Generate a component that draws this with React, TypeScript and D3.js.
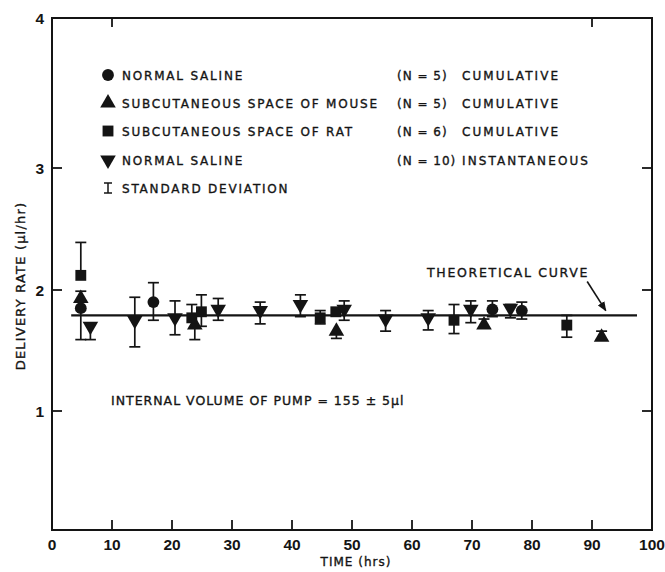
import React from "react";
import * as d3 from "d3";

const W = 665;
const H = 572;

// ---- axes ----
const xTickValues = [0, 10, 20, 30, 40, 50, 60, 70, 80, 90, 100];
const xInnerTicks = [10, 20, 30, 40, 50, 60, 70, 80, 90];
const xTopTicks = [10, 90];
const yTickLabels = [1, 2, 3, 4];
const yInnerTicks = [1, 2, 3];

// ---- data: NORMAL SALINE (N = 5) CUMULATIVE  (circles) ----
const salineCumT = [4.8, 16.9, 73.4, 78.3];
const salineCumV = [1.85, 1.9, 1.84, 1.83];
const salineCumHi: (number | null)[] = [null, 2.06, 1.91, 1.9];
const salineCumLo: (number | null)[] = [1.59, 1.75, 1.78, 1.76];

// ---- SUBCUTANEOUS SPACE OF MOUSE (N = 5) CUMULATIVE (triangles up) ----
const mouseT = [4.8, 23.8, 47.4, 72.0, 91.6];
const mouseV = [1.93, 1.71, 1.66, 1.71, 1.61];
const mouseHi: (number | null)[] = [1.99, null, null, 1.76, 1.66];
const mouseLo: (number | null)[] = [null, 1.59, 1.6, null, null];

// ---- SUBCUTANEOUS SPACE OF RAT (N = 6) CUMULATIVE (squares) ----
const ratT = [4.8, 23.3, 24.9, 44.7, 47.3, 67.0, 85.8];
const ratV = [2.12, 1.77, 1.82, 1.77, 1.82, 1.75, 1.71];
const ratHi: (number | null)[] = [2.39, 1.88, 1.96, 1.83, null, 1.88, 1.79];
const ratLo: (number | null)[] = [null, null, 1.7, 1.72, null, 1.64, 1.61];

// ---- NORMAL SALINE (N = 10) INSTANTANEOUS (triangles down) ----
const salineInstT = [6.4, 13.8, 20.5, 27.7, 34.7, 41.4, 48.7, 55.6, 62.7, 69.8, 76.4];
const salineInstV = [1.7, 1.75, 1.77, 1.84, 1.83, 1.88, 1.84, 1.76, 1.77, 1.84, 1.85];
const salineInstHi: (number | null)[] = [null, 1.94, 1.91, 1.93, 1.9, 1.96, 1.91, 1.83, 1.83, 1.91, 1.88];
const salineInstLo: (number | null)[] = [1.59, 1.53, 1.63, 1.75, 1.72, 1.78, 1.75, 1.66, 1.67, 1.73, 1.77];

// ---- theoretical curve ----
const theoT = [3.2, 97.5];
const theoV = [1.79, 1.79];
const arrowT = [89.2, 92.3];
const arrowV = [2.07, 1.83];

type Shape = "circle" | "up" | "square" | "down";

const legendLabels = [
  "NORMAL SALINE",
  "SUBCUTANEOUS SPACE OF MOUSE",
  "SUBCUTANEOUS SPACE OF RAT",
  "NORMAL SALINE",
  "STANDARD DEVIATION",
];
const legendN = ["(N = 5)", "(N = 5)", "(N = 6)", "(N = 10)"];
const legendKind = ["CUMULATIVE", "CUMULATIVE", "CUMULATIVE", "INSTANTANEOUS"];
const legendShapes: Shape[] = ["circle", "up", "square", "down"];

const x = d3.scaleLinear().domain([0, 100]).range([52, 652]);
const y = d3.scaleLinear().domain([0, 1, 2, 3, 4]).range([530, 411, 290, 168, 18]);

const FONT = "'DejaVu Sans', sans-serif";
const NUMFONT = "'Liberation Sans', Arial, sans-serif";
const INK = "#141414";
const TXT = { fill: INK, stroke: INK, strokeWidth: 0.35 };

function symbolPath(shape: Shape): string {
  const gen = d3.symbol();
  if (shape === "circle") return gen.type(d3.symbolCircle).size(110)() as string;
  if (shape === "square") return gen.type(d3.symbolSquare).size(118)() as string;
  return gen.type(d3.symbolTriangle).size(105)() as string;
}

function Marker({ shape, cx, cy }: { shape: Shape; cx: number; cy: number }) {
  const rot = shape === "down" ? 180 : 0;
  return (
    <path
      d={symbolPath(shape)}
      transform={`translate(${cx},${cy}) rotate(${rot})`}
      fill={INK}
    />
  );
}

function ErrorBar({ t, v, hi, lo }: { t: number; v: number; hi: number | null; lo: number | null }) {
  const cx = x(t);
  const top = y(hi ?? v);
  const bot = y(lo ?? v);
  const cw = 5.5;
  return (
    <g stroke={INK} strokeWidth={1.7} fill="none">
      <line x1={cx} x2={cx} y1={top} y2={bot} />
      {hi !== null && <line x1={cx - cw} x2={cx + cw} y1={top} y2={top} />}
      {lo !== null && <line x1={cx - cw} x2={cx + cw} y1={bot} y2={bot} />}
    </g>
  );
}

const series = [
  { shape: "circle" as Shape, t: salineCumT, v: salineCumV, hi: salineCumHi, lo: salineCumLo },
  { shape: "up" as Shape, t: mouseT, v: mouseV, hi: mouseHi, lo: mouseLo },
  { shape: "square" as Shape, t: ratT, v: ratV, hi: ratHi, lo: ratLo },
  { shape: "down" as Shape, t: salineInstT, v: salineInstV, hi: salineInstHi, lo: salineInstLo },
];

export default function App() {
  const line = d3
    .line<number>()
    .x((_, i) => x(theoT[i]))
    .y((_, i) => y(theoV[i]));
  const legendY = [75, 103, 131, 160, 188];
  const x0 = x(0), x1 = x(100), y0 = y(0), y4 = y(4);
  return (
    <svg
      width={W}
      height={H}
      style={{ position: "absolute", left: 0, top: 0, background: "#fff" }}
      fontFamily={FONT}
    >
      <defs>
        <marker id="ah" viewBox="0 0 10 10" refX="9" refY="5" markerWidth="6" markerHeight="6" orient="auto">
          <path d="M0,1 L10,5 L0,9 Z" fill={INK} />
        </marker>
      </defs>
      {/* frame */}
      <rect x={x0} y={y4} width={x1 - x0} height={y0 - y4} fill="none" stroke={INK} strokeWidth={2} />
      {/* bottom ticks */}
      {xInnerTicks.map((t) => (
        <line key={"xb" + t} x1={x(t)} x2={x(t)} y1={y0} y2={y0 - 10} stroke={INK} strokeWidth={1.8} />
      ))}
      {xTopTicks.map((t) => (
        <line key={"xt" + t} x1={x(t)} x2={x(t)} y1={y4} y2={y4 + 9} stroke={INK} strokeWidth={1.8} />
      ))}
      {yInnerTicks.map((v) => (
        <g key={"yt" + v}>
          <line x1={x0} x2={x0 + 10} y1={y(v)} y2={y(v)} stroke={INK} strokeWidth={1.8} />
          <line x1={x1} x2={x1 - 10} y1={y(v)} y2={y(v)} stroke={INK} strokeWidth={1.8} />
        </g>
      ))}
      {/* tick labels */}
      {xTickValues.map((t) => (
        <text key={"xl" + t} x={x(t)} y={y0 + 20} textAnchor="middle" fontFamily={NUMFONT} fontSize={15.5} fontWeight="bold" fill={INK}>
          {t}
        </text>
      ))}
      {yTickLabels.map((v) => (
        <text key={"yl" + v} x={x0 - 8} y={y(v) + 5.5} textAnchor="end" fontFamily={NUMFONT} fontSize={15.5} fontWeight="bold" fill={INK}>
          {v}
        </text>
      ))}
      {/* axis titles */}
      <text x={356} y={566} textAnchor="middle" fontSize={12} letterSpacing={1} {...TXT}>
        TIME (hrs)
      </text>
      <text
        transform="translate(25,286) rotate(-90)"
        textAnchor="middle"
        fontSize={13}
        letterSpacing={1.2}
        {...TXT}
      >
        DELIVERY RATE (µl/hr)
      </text>
      {/* theoretical curve */}
      <path d={line(theoT) as string} fill="none" stroke={INK} strokeWidth={2.2} />
      <text x={427} y={277} fontSize={12.5} letterSpacing={1.7} {...TXT}>
        THEORETICAL CURVE
      </text>
      <line
        x1={x(arrowT[0])}
        y1={y(arrowV[0])}
        x2={x(arrowT[1])}
        y2={y(arrowV[1])}
        stroke={INK}
        strokeWidth={1.6}
        markerEnd="url(#ah)"
      />
      <text x={111} y={405} fontSize={12.5} letterSpacing={1.0} {...TXT}>
        INTERNAL VOLUME OF PUMP = 155 ± 5µl
      </text>
      {/* error bars */}
      {series.map((s, si) =>
        s.t.map((t, i) => <ErrorBar key={`e${si}-${i}`} t={t} v={s.v[i]} hi={s.hi[i]} lo={s.lo[i]} />)
      )}
      {/* markers */}
      {series.map((s, si) =>
        s.t.map((t, i) => <Marker key={`m${si}-${i}`} shape={s.shape} cx={x(t)} cy={y(s.v[i])} />)
      )}
      {/* legend */}
      {legendShapes.map((sh, i) => (
        <Marker key={"lm" + i} shape={sh} cx={108} cy={legendY[i]} />
      ))}
      <g stroke={INK} strokeWidth={1.5}>
        <line x1={108} x2={108} y1={legendY[4] - 5} y2={legendY[4] + 5} />
        <line x1={104} x2={112} y1={legendY[4] - 5} y2={legendY[4] - 5} />
        <line x1={104} x2={112} y1={legendY[4] + 5} y2={legendY[4] + 5} />
      </g>
      {legendLabels.map((l, i) => (
        <text key={"ll" + i} x={122} y={legendY[i] + 4.5} fontSize={12} letterSpacing={1.8} {...TXT}>
          {l}
        </text>
      ))}
      {legendN.map((l, i) => (
        <text key={"ln" + i} x={397} y={legendY[i] + 4.5} fontSize={12} letterSpacing={1} {...TXT}>
          {l}
        </text>
      ))}
      {legendKind.map((l, i) => (
        <text key={"lk" + i} x={462} y={legendY[i] + 4.5} fontSize={12} letterSpacing={2.1} {...TXT}>
          {l}
        </text>
      ))}
    </svg>
  );
}
